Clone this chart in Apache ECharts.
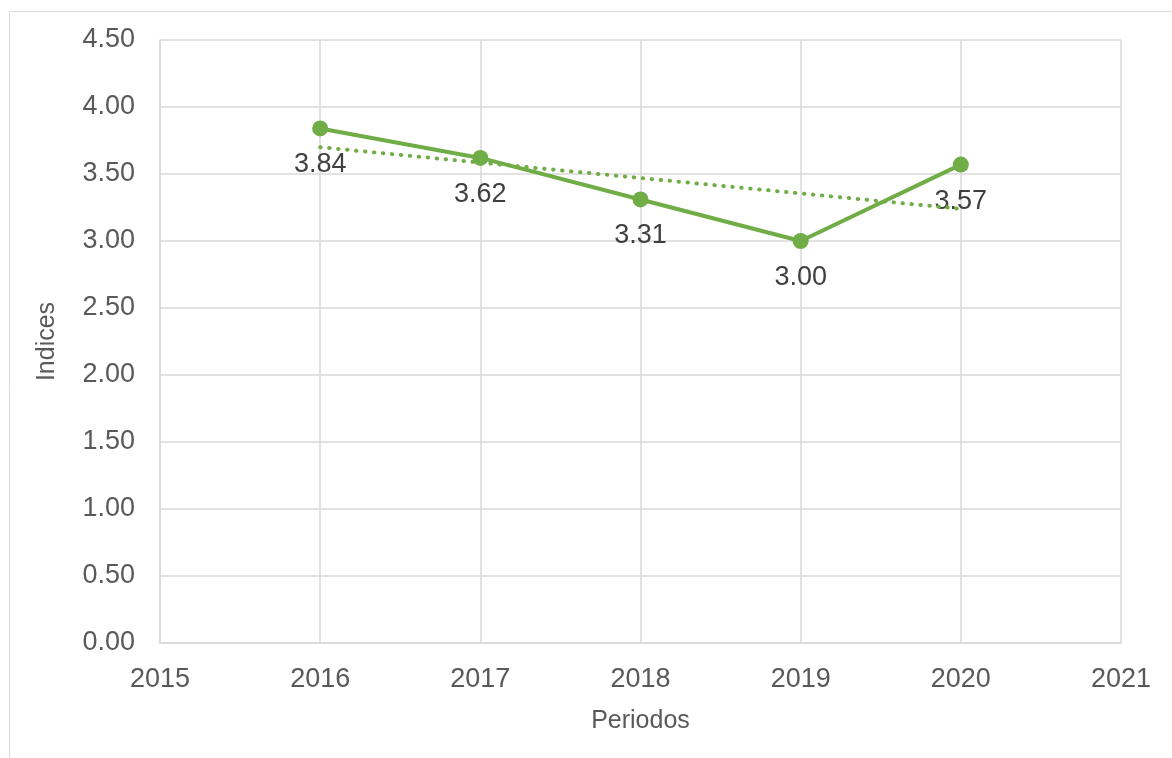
<!DOCTYPE html>
<html>
<head>
<meta charset="utf-8">
<script src="https://cdn.jsdelivr.net/npm/echarts@6/dist/echarts.min.js"></script>
<style>
  html, body { margin: 0; padding: 0; background: #fff; }
  #chart { width: 1172px; height: 758px; }
</style>
</head>
<body>
<div id="chart"></div>
<script>
// datos
var years = [2016, 2017, 2018, 2019, 2020];
var indices = [3.84, 3.62, 3.31, 3.00, 3.57];
// linea de tendencia (extremos)
var trendYears = [2016, 2020];
var trendValues = [3.70, 3.24];

var green = '#70AD47';
var font = '"Liberation Sans", Arial, sans-serif';

function pairs(xs, ys) {
    var out = [];
    for (var i = 0; i < xs.length; i++) out.push([xs[i], ys[i]]);
    return out;
}

var myChart = echarts.init(document.getElementById('chart'));

var option = {
    backgroundColor: '#fff',
    animation: false,
    graphic: [{
        type: 'rect',
        shape: { x: 9.5, y: 11.5, width: 1200, height: 800 },
        style: { fill: 'none', stroke: '#d9d9d9', lineWidth: 1 },
        silent: true
    }],
    grid: {
        left: 160,
        right: 51,
        top: 40,
        bottom: 115
    },
    xAxis: {
        type: 'value',
        min: 2015,
        max: 2021,
        interval: 1,
        name: 'Periodos',
        nameLocation: 'middle',
        nameGap: 66,
        nameTextStyle: { color: '#595959', fontSize: 25, fontFamily: font },
        axisLine: { show: true, lineStyle: { color: '#d9d9d9', width: 1.5 } },
        axisTick: { show: false },
        axisLabel: {
            color: '#595959', fontSize: 27, fontFamily: font, margin: 23,
            formatter: function (v) { return String(v); }
        },
        splitLine: { show: true, lineStyle: { color: '#d9d9d9', width: 1.5 } }
    },
    yAxis: {
        type: 'value',
        min: 0,
        max: 4.5,
        interval: 0.5,
        name: 'Indices',
        nameLocation: 'middle',
        nameGap: 100,
        nameRotate: 90,
        nameTextStyle: { color: '#595959', fontSize: 25, fontFamily: font },
        axisLine: { show: true, lineStyle: { color: '#d9d9d9', width: 1.5 } },
        axisTick: { show: false },
        axisLabel: {
            color: '#595959', fontSize: 27, fontFamily: font, margin: 25,
            formatter: function (v) { return v.toFixed(2); }
        },
        splitLine: { show: true, lineStyle: { color: '#d9d9d9', width: 1.5 } }
    },
    series: [
        {
            name: 'Indices',
            type: 'line',
            data: pairs(years, indices),
            symbol: 'circle',
            symbolSize: 16,
            itemStyle: { color: green },
            lineStyle: { color: green, width: 4 },
            label: {
                show: true,
                position: 'bottom',
                distance: 15,
                color: '#404040',
                fontSize: 27,
                fontFamily: font,
                formatter: function (p) { return p.value[1].toFixed(2); }
            },
            z: 3
        },
        {
            name: 'Tendencia',
            type: 'line',
            data: pairs(trendYears, trendValues),
            symbol: 'none',
            lineStyle: { color: green, width: 4, type: [0.5, 8.5], cap: 'round' },
            silent: true,
            z: 4
        }
    ]
};
myChart.setOption(option);
</script>
</body>
</html>
